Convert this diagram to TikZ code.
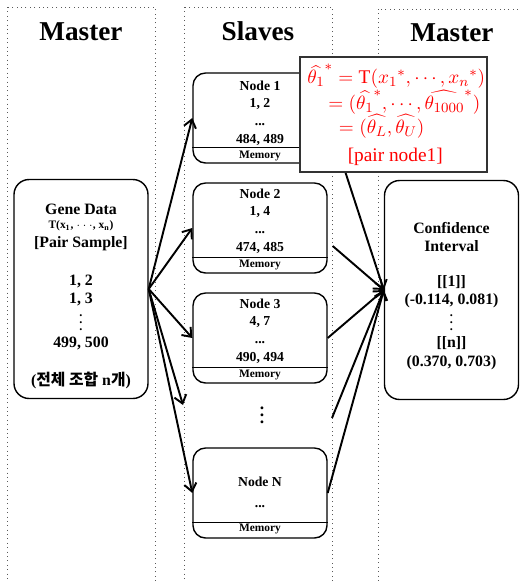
\documentclass[tikz,border=0pt]{standalone}
\usepackage{fontspec}
\setmainfont{Liberation Serif}
\newfontfamily\krfont{Noto Sans CJK KR}
\usetikzlibrary{arrows.meta}
\tikzset{
	column/.style={draw=black!65, dotted, line width=0.5pt},
	coltitle/.style={font=\fontsize{15.5}{18}\selectfont\bfseries},
	bigbox/.style={draw, rounded corners=0.3cm, line width=0.8pt, minimum width=2.68cm, minimum height=4.38cm, align=center, font=\fontsize{9}{10.5}\selectfont\bfseries},
	slavebox/.style={draw, rounded corners=0.25cm, line width=0.8pt, minimum width=2.68cm, minimum height=1.8cm},
	slavetext/.style={align=center, font=\fontsize{7.8}{10}\selectfont\bfseries},
	memtext/.style={inner sep=0pt, font=\fontsize{6.5}{7}\selectfont\bfseries},
	flow/.style={-{Straight Barb[length=4.5pt,width=7pt]}, line width=1.1pt},
	redbox/.style={draw=black!80, fill=white, line width=0.7pt, minimum width=3.74cm, minimum height=2.3cm},
	redtext/.style={text=red, align=left, inner sep=0pt, font=\fontsize{11}{13}\selectfont}
}
\newcommand{\smallvdots}{{\fontsize{7}{7}\selectfont$\vdots$}}

\begin{document}
\begin{tikzpicture}[x=0.02cm, y=-0.02cm]
	\useasboundingbox (0,0) rectangle (520,582);
	
	\draw[column] (7,7) rectangle (155,600);
	\draw[column] (184,7) rectangle (332,600);
	\draw[column] (378,9) rectangle (540,600);
	
	\node [coltitle] (mleft) at (81,32) {Master};
	\node [coltitle] (slaves) at (258,31) {Slaves};
	\node [coltitle] (mright) at (452,33) {Master};
	
	\node [bigbox] (gd) at (81,289) {\rule{0pt}{14pt}Gene Data\\[-2pt]
		{\fontsize{6.5}{8}\selectfont T(x\textsubscript{1}, $\cdots$, x\textsubscript{n})}\\
		{[Pair Sample]}\\[11pt]
		1, 2\\ 1, 3\\[-2pt] \smallvdots\\[-1pt] 499, 500\\[11pt]
		({\krfont 전체 조합} n{\krfont 개})};
	
	\node [bigbox] (ci) at (451.5,290) {\rule{0pt}{13pt}Confidence\\ Interval\\[9pt]
		{[[1]]}\\ (-0.114, 0.081)\\[-3pt] \smallvdots\\[-1pt] {[[n]]}\\ (0.370, 0.703)};
	
	\node [slavebox] (n1) at (260,118) {};
	\node [slavetext] (n1t) at (260,113) {Node 1\\ 1, 2\\ ...\\ 484, 489};
	\draw [line width=0.7pt] ([yshift=0.32cm]n1.south west) -- ([yshift=0.32cm]n1.south east);
	\node [memtext] (n1m) at (260,156) {Memory};
	
	\node [slavebox] (n2) at (260,228) {};
	\node [slavetext] (n2t) at (260,221) {Node 2\\ 1, 4\\ ...\\ 474, 485};
	\draw [line width=0.7pt] ([yshift=0.32cm]n2.south west) -- ([yshift=0.32cm]n2.south east);
	\node [memtext] (n2m) at (260,265) {Memory};
	
	\node [slavebox] (n3) at (260,338) {};
	\node [slavetext] (n3t) at (260,331) {Node 3\\ 4, 7\\ ...\\ 490, 494};
	\draw [line width=0.7pt] ([yshift=0.32cm]n3.south west) -- ([yshift=0.32cm]n3.south east);
	\node [memtext] (n3m) at (260,375) {Memory};
	
	\node [font=\fontsize{10}{11}\selectfont\bfseries] (vd) at (262,410) {$\vdots$};
	\coordinate (dotsin) at (183,405);
	\coordinate (dotsout) at (332,418);
	
	\node [slavebox] (nN) at (260,493) {};
	\node [slavetext] (nNt) at (260,492) {Node N\\[2pt] ...};
	\draw [line width=0.7pt] ([yshift=0.32cm]nN.south west) -- ([yshift=0.32cm]nN.south east);
	\node [memtext] (nNm) at (260,529) {Memory};
	
	\draw [flow] (gd.east) -- (n1.west);
	\draw [flow] (gd.east) -- (n2.west);
	\draw [flow] (gd.east) -- (n3.west);
	\draw [flow] (gd.east) -- (dotsin);
	\draw [flow] (gd.east) -- (nN.west);
	
	\draw [flow] (n1.east) -- (ci.west);
	\draw [flow] ([xshift=0.1cm,yshift=-0.36cm]n2.east) -- (ci.west);
	\draw [flow] (n3.east) -- (ci.west);
	\draw [flow] (dotsout) -- (ci.west);
	\draw [flow] (nN.east) -- (ci.west);
	
	\node [redbox] (rb) at (393.5,114.5) {};
	\node [redtext, anchor=north west] (rbt) at (307,64) {$\widehat{\theta_1}^{*}=\mathrm{T}({x_1}^{*},\cdots,{x_n}^{*})$\\[-0.5pt]
		\hspace{12pt}$=(\widehat{\theta_1}^{*},\cdots,\widehat{\theta_{1000}}^{*})$\\[-1pt]
		\hspace{18pt}$=(\widehat{\theta_L},\widehat{\theta_U})$\\[3pt]
		\hspace{23pt}{[pair node1]}};
\end{tikzpicture}
\end{document}
